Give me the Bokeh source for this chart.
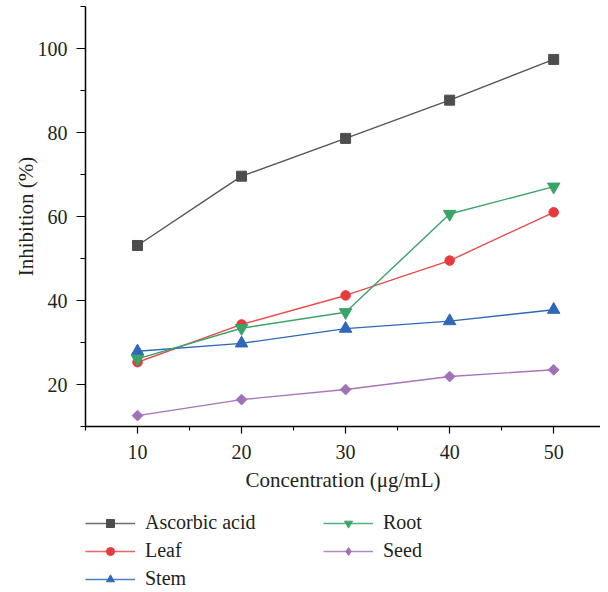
import math
from bokeh.plotting import figure
from bokeh.layouts import column
from bokeh.models import Range1d, FixedTicker, Legend, LegendItem
from bokeh.embed import file_html
from bokeh.resources import INLINE

concentration = [10, 20, 30, 40, 50]
ascorbic_acid = [53.1, 69.6, 78.6, 87.7, 97.4]
leaf = [25.3, 34.3, 41.2, 49.5, 61.0]
stem = [27.9, 29.8, 33.3, 35.1, 37.8]
root = [26.1, 33.4, 37.2, 60.6, 67.1]
seed = [12.6, 16.4, 18.8, 21.9, 23.5]
series_names = ["Ascorbic acid", "Leaf", "Stem", "Root", "Seed"]
x_ticks = [10, 20, 30, 40, 50]
x_minor = [5, 15, 25, 35, 45, 55]
y_ticks = [20, 40, 60, 80, 100]
y_minor = [10, 30, 50, 70, 90, 110]

FONT = "Liberation Serif"
TXT = "#231f20"

p = figure(width=600, height=498, output_backend="svg", toolbar_location=None,
           x_range=Range1d(5, 54.5), y_range=Range1d(10, 110),
           min_border_left=85, min_border_right=0, min_border_top=6, min_border_bottom=72)
p.outline_line_color = None
p.grid.visible = False

for ax in (p.xaxis[0], p.yaxis[0]):
    ax.axis_line_color = "black"
    ax.axis_line_width = 1.5
    ax.major_tick_line_color = "black"
    ax.minor_tick_line_color = "black"
    ax.major_tick_line_width = 1.2
    ax.minor_tick_line_width = 1.2
    ax.major_tick_in = 0
    ax.minor_tick_in = 0
    ax.major_label_text_font = FONT
    ax.major_label_text_font_size = "20px"
    ax.major_label_text_color = TXT
    ax.axis_label_text_font = FONT
    ax.axis_label_text_font_size = "21px"
    ax.axis_label_text_font_style = "normal"
    ax.axis_label_text_color = TXT

p.xaxis[0].ticker = FixedTicker(ticks=x_ticks, minor_ticks=x_minor)
p.yaxis[0].ticker = FixedTicker(ticks=y_ticks, minor_ticks=y_minor)
p.xaxis[0].major_tick_out = 7
p.xaxis[0].minor_tick_out = 4
p.yaxis[0].major_tick_out = 9
p.yaxis[0].minor_tick_out = 5
p.xaxis[0].axis_label = "Concentration (μg/mL)"
p.yaxis[0].axis_label = "Inhibition (%)"
p.xaxis[0].major_label_standoff = 11
p.xaxis[0].axis_label_standoff = 6
p.yaxis[0].major_label_standoff = 9
p.yaxis[0].axis_label_standoff = -3

# (values, line colour, marker colour, marker, size, angle, legend marker, legend size)
styles = [
    (ascorbic_acid, "#555555", "#4d4d4f", "square", 10, 0.0, "square", 9),
    (leaf, "#ea4b4b", "#e8393c", "circle", 9.5, 0.0, "circle", 9),
    (stem, "#2f68b8", "#2f68b8", "triangle", 12.5, 0.0, "triangle", 11),
    (root, "#3aa468", "#3aa468", "inverted_triangle", 12.5, 0.0, "inverted_triangle", 11),
    (seed, "#a675b8", "#a070b8", "square", 7.6, math.pi / 4, "diamond", 13),
]

# legend figure below the chart; its renderers use the same data but lie outside its view
lf = figure(width=600, height=94, output_backend="svg", toolbar_location=None,
            x_range=Range1d(0, 1), y_range=Range1d(0, 1),
            min_border_left=85, min_border_right=0, min_border_top=0, min_border_bottom=0)
lf.outline_line_color = None
lf.axis.visible = False
lf.grid.visible = False

items = []
for name, (vals, lc, mc, marker, size, ang, lmarker, lsize) in zip(series_names, styles):
    p.line(concentration, vals, line_color=lc, line_width=1.4)
    p.scatter(concentration, vals, marker=marker, size=size, angle=ang,
              fill_color=mc, line_color=mc)
    l1 = lf.line(concentration, vals, line_color=lc, line_width=1.4, line_alpha=0.85)
    l2 = lf.scatter(concentration, vals, marker=lmarker, size=lsize,
                    fill_color=mc, line_color=mc)
    items.append(LegendItem(label=name, renderers=[l1, l2]))

legend = Legend(items=items, nrows=3, orientation="vertical", location=(0, 2))
legend.label_text_font = FONT
legend.label_text_font_size = "20px"
legend.label_text_color = TXT
legend.glyph_width = 50
legend.glyph_height = 20
legend.label_standoff = 10
legend.label_width = 173
legend.spacing = 5
legend.padding = 0
legend.margin = 0
legend.border_line_color = None
legend.background_fill_alpha = 0
legend.label_height = 20
lf.add_layout(legend, "center")

layout = column(p, lf, spacing=0)
open("out.html", "w").write(file_html(layout, INLINE))
